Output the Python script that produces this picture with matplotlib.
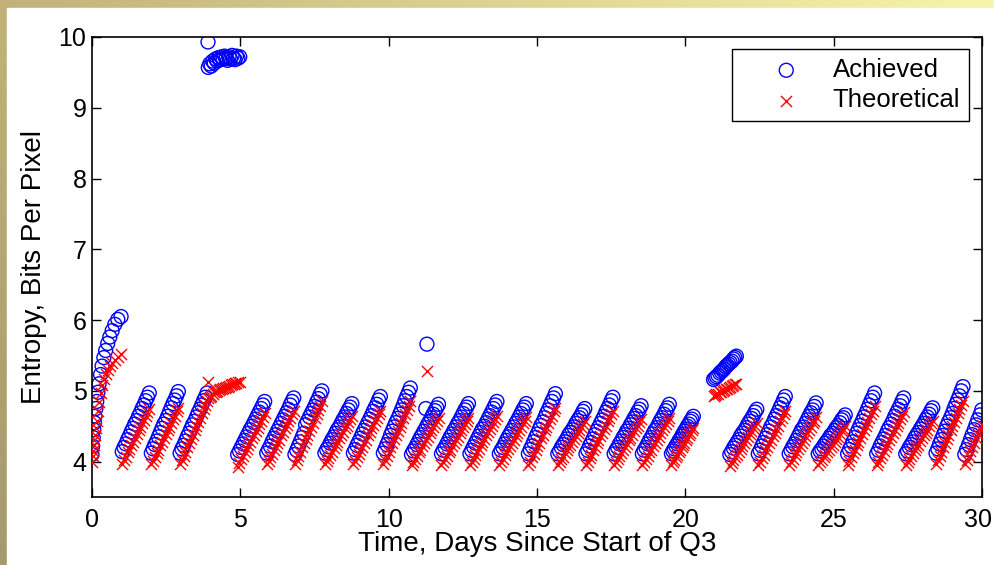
import numpy as np
import matplotlib.pyplot as plt
import matplotlib.transforms as mtransforms
from matplotlib.colors import to_rgb

# Sample times (days since start of Q3), one row per daily ramp
time_days = [
0.00,0.02,0.04,0.06,0.08,0.10,0.13,0.16,0.20,0.24,0.29,0.34,0.40,0.46,0.53,0.60,0.68,0.77,0.87,0.98,
1.02,1.08,1.14,1.20,1.26,1.32,1.38,1.44,1.51,1.57,1.63,1.69,1.75,1.81,1.87,1.93,
2.00,2.06,2.12,2.18,2.24,2.30,2.36,2.42,2.49,2.55,2.61,2.67,2.73,2.79,2.85,2.91,
2.97,3.03,3.09,3.15,3.21,3.27,3.33,3.39,3.46,3.52,3.58,3.64,3.70,3.76,3.82,3.88,
3.91,3.92,3.97,4.02,4.07,4.12,4.17,4.22,4.27,4.32,4.37,4.42,4.47,4.52,4.57,4.62,4.67,4.72,4.77,4.82,4.87,4.92,4.98,
4.91,4.97,5.03,5.09,5.15,5.21,5.27,5.33,5.40,5.46,5.52,5.58,5.64,5.70,5.76,5.82,
5.89,5.95,6.01,6.07,6.13,6.19,6.25,6.31,6.38,6.44,6.50,6.56,6.62,6.68,6.74,6.80,
6.84,6.90,6.96,7.02,7.08,7.14,7.20,7.26,7.33,7.39,7.45,7.51,7.57,7.63,7.69,7.75,
7.85,7.91,7.97,8.03,8.09,8.15,8.21,8.27,8.34,8.40,8.46,8.52,8.58,8.64,8.70,8.76,
8.81,8.87,8.93,8.99,9.05,9.11,9.17,9.23,9.30,9.36,9.42,9.48,9.54,9.60,9.66,9.72,
9.82,9.88,9.94,10.00,10.06,10.12,10.18,10.24,10.31,10.37,10.43,10.49,10.55,10.61,10.67,10.73,
10.77,10.83,10.89,10.95,11.01,11.07,11.13,11.19,11.26,11.32,11.38,11.44,11.50,11.56,11.62,11.68,11.25,11.29,
11.78,11.84,11.90,11.96,12.02,12.08,12.14,12.20,12.27,12.33,12.39,12.45,12.51,12.57,12.63,12.69,
12.74,12.80,12.86,12.92,12.98,13.04,13.10,13.16,13.23,13.29,13.35,13.41,13.47,13.53,13.59,13.65,
13.73,13.79,13.85,13.91,13.97,14.03,14.09,14.15,14.22,14.28,14.34,14.40,14.46,14.52,14.58,14.64,
14.71,14.77,14.83,14.89,14.95,15.01,15.07,15.13,15.20,15.26,15.32,15.38,15.44,15.50,15.56,15.62,
15.70,15.76,15.82,15.88,15.94,16.00,16.06,16.12,16.19,16.25,16.31,16.37,16.43,16.49,16.55,16.61,
16.65,16.71,16.77,16.83,16.89,16.95,17.01,17.07,17.14,17.20,17.26,17.32,17.38,17.44,17.50,17.56,
17.60,17.66,17.72,17.78,17.84,17.90,17.96,18.02,18.09,18.15,18.21,18.27,18.33,18.39,18.45,18.51,
18.55,18.61,18.67,18.73,18.79,18.85,18.91,18.97,19.04,19.10,19.16,19.22,19.28,19.34,19.40,19.46,
19.53,19.58,19.63,19.68,19.73,19.78,19.83,19.88,19.92,19.97,20.02,20.07,20.12,20.17,20.22,20.27,
20.95,21.00,21.05,21.10,21.16,21.21,21.26,21.31,21.36,21.41,21.46,21.51,21.57,21.62,21.67,21.72,
21.50,21.56,21.62,21.68,21.74,21.80,21.86,21.92,21.99,22.05,22.11,22.17,22.23,22.29,22.35,22.41,
22.46,22.52,22.58,22.64,22.70,22.76,22.82,22.88,22.95,23.01,23.07,23.13,23.19,23.25,23.31,23.37,
23.50,23.56,23.62,23.68,23.74,23.80,23.86,23.92,23.99,24.05,24.11,24.17,24.23,24.29,24.35,24.41,
24.48,24.54,24.60,24.66,24.72,24.78,24.84,24.90,24.97,25.03,25.09,25.15,25.21,25.27,25.33,25.39,
25.47,25.53,25.59,25.65,25.71,25.77,25.83,25.89,25.96,26.02,26.08,26.14,26.20,26.26,26.32,26.38,
26.45,26.51,26.57,26.63,26.69,26.75,26.81,26.87,26.94,27.00,27.06,27.12,27.18,27.24,27.30,27.36,
27.43,27.49,27.55,27.61,27.67,27.73,27.79,27.85,27.92,27.98,28.04,28.10,28.16,28.22,28.28,28.34,
28.45,28.51,28.57,28.63,28.69,28.75,28.81,28.87,28.94,29.00,29.06,29.12,29.18,29.24,29.30,29.36,
29.42,29.48,29.55,29.61,29.67,29.74,29.80,29.86,29.93,29.99,
]

# Achieved entropy (bits per pixel)
achieved = [
4.10,4.22,4.34,4.45,4.55,4.64,4.75,4.85,4.98,5.10,5.23,5.35,5.47,5.57,5.67,5.76,5.85,5.94,6.01,6.05,
4.14,4.20,4.25,4.31,4.36,4.42,4.47,4.53,4.58,4.64,4.69,4.75,4.80,4.86,4.91,4.97,
4.12,4.18,4.24,4.29,4.35,4.41,4.47,4.53,4.58,4.64,4.70,4.76,4.82,4.87,4.93,4.99,
4.12,4.18,4.23,4.29,4.35,4.40,4.46,4.52,4.57,4.63,4.69,4.74,4.80,4.86,4.91,4.97,
9.93,9.57,9.62,9.59,9.66,9.63,9.69,9.66,9.71,9.68,9.72,9.69,9.73,9.70,9.67,9.72,9.69,9.74,9.70,9.68,9.73,9.70,9.72,
4.10,4.15,4.20,4.25,4.30,4.35,4.40,4.45,4.50,4.55,4.60,4.65,4.70,4.75,4.80,4.85,
4.12,4.17,4.22,4.28,4.33,4.38,4.43,4.48,4.54,4.59,4.64,4.69,4.74,4.80,4.85,4.90,
4.10,4.16,4.22,4.28,4.34,4.40,4.52,4.57,4.63,4.68,4.73,4.78,4.84,4.89,4.95,5.00,
4.12,4.17,4.21,4.26,4.31,4.35,4.40,4.45,4.49,4.54,4.59,4.63,4.68,4.73,4.77,4.82,
4.12,4.17,4.23,4.28,4.33,4.39,4.44,4.49,4.55,4.60,4.65,4.71,4.76,4.81,4.87,4.92,
4.12,4.18,4.24,4.30,4.37,4.43,4.49,4.55,4.61,4.67,4.73,4.79,4.86,4.92,4.98,5.04,
4.10,4.15,4.19,4.24,4.29,4.34,4.38,4.43,4.48,4.53,4.57,4.62,4.67,4.72,4.76,4.81,4.75,5.66,
4.11,4.16,4.20,4.25,4.30,4.35,4.39,4.44,4.49,4.54,4.58,4.63,4.68,4.73,4.77,4.82,
4.11,4.16,4.21,4.26,4.31,4.36,4.41,4.46,4.50,4.55,4.60,4.65,4.70,4.75,4.80,4.85,
4.11,4.16,4.20,4.25,4.30,4.35,4.39,4.44,4.49,4.54,4.58,4.63,4.68,4.73,4.77,4.82,
4.11,4.17,4.22,4.28,4.34,4.39,4.45,4.51,4.56,4.62,4.68,4.73,4.79,4.85,4.90,4.96,
4.11,4.15,4.20,4.24,4.28,4.32,4.37,4.41,4.45,4.49,4.54,4.58,4.62,4.66,4.71,4.75,
4.11,4.16,4.22,4.27,4.32,4.38,4.43,4.48,4.54,4.59,4.64,4.70,4.75,4.80,4.86,4.91,
4.11,4.16,4.20,4.25,4.29,4.34,4.38,4.43,4.47,4.52,4.56,4.61,4.65,4.70,4.74,4.79,
4.11,4.16,4.20,4.25,4.30,4.34,4.39,4.44,4.48,4.53,4.58,4.62,4.67,4.72,4.76,4.81,
4.11,4.15,4.18,4.22,4.25,4.29,4.32,4.36,4.39,4.43,4.46,4.50,4.53,4.57,4.60,4.64,
5.16,5.18,5.20,5.22,5.25,5.27,5.29,5.31,5.34,5.36,5.38,5.40,5.42,5.45,5.47,5.49,
4.10,4.14,4.19,4.23,4.27,4.31,4.36,4.40,4.44,4.48,4.53,4.57,4.61,4.65,4.70,4.74,
4.11,4.16,4.22,4.27,4.33,4.38,4.43,4.49,4.54,4.60,4.65,4.70,4.76,4.81,4.87,4.92,
4.11,4.16,4.21,4.25,4.30,4.35,4.40,4.45,4.49,4.54,4.59,4.64,4.69,4.73,4.78,4.83,
4.11,4.15,4.18,4.22,4.26,4.29,4.33,4.37,4.40,4.44,4.48,4.51,4.55,4.59,4.62,4.66,
4.11,4.17,4.22,4.28,4.34,4.40,4.45,4.51,4.57,4.63,4.68,4.74,4.80,4.86,4.91,4.97,
4.11,4.16,4.22,4.27,4.32,4.37,4.43,4.48,4.53,4.58,4.64,4.69,4.74,4.79,4.85,4.90,
4.11,4.15,4.20,4.24,4.28,4.33,4.37,4.41,4.46,4.50,4.54,4.59,4.63,4.67,4.72,4.76,
4.12,4.18,4.25,4.31,4.37,4.43,4.50,4.56,4.62,4.68,4.75,4.81,4.87,4.93,5.00,5.06,
4.10,4.17,4.24,4.31,4.38,4.45,4.52,4.59,4.66,4.73,
]

# Theoretical entropy (bits per pixel); nan where no cross is drawn
theoretical = [
4.00,4.08,4.15,4.23,4.30,4.38,4.48,4.58,4.72,4.84,4.97,5.08,5.17,5.24,5.30,5.35,5.40,5.44,5.48,5.52,
3.97,4.02,4.07,4.13,4.18,4.23,4.28,4.33,4.39,4.44,4.49,4.54,4.59,4.65,4.70,4.75,
3.96,4.01,4.07,4.12,4.17,4.23,4.28,4.33,4.39,4.44,4.49,4.55,4.60,4.65,4.71,4.76,
3.96,4.02,4.08,4.14,4.20,4.26,4.32,4.38,4.44,4.50,4.56,4.62,4.68,4.74,4.80,4.86,
5.12,4.90,4.91,4.93,4.96,4.98,4.99,5.00,5.01,5.02,5.03,5.04,5.04,5.05,5.06,5.07,5.08,5.09,5.10,5.11,5.11,5.12,5.13,
3.93,3.98,4.03,4.08,4.13,4.18,4.23,4.28,4.33,4.38,4.43,4.48,4.53,4.58,4.63,4.68,
3.96,4.01,4.06,4.11,4.16,4.21,4.26,4.31,4.37,4.42,4.47,4.52,4.57,4.62,4.67,4.72,
3.96,4.02,4.08,4.14,4.20,4.26,4.32,4.38,4.43,4.49,4.55,4.61,4.67,4.73,4.79,4.85,
3.96,4.01,4.05,4.10,4.14,4.19,4.24,4.28,4.33,4.37,4.42,4.47,4.51,4.56,4.60,4.65,
3.96,4.01,4.06,4.11,4.16,4.21,4.26,4.31,4.37,4.42,4.47,4.52,4.57,4.62,4.67,4.72,
3.96,4.02,4.08,4.14,4.20,4.26,4.32,4.38,4.43,4.49,4.55,4.61,4.67,4.73,4.79,4.85,
3.95,3.99,4.04,4.08,4.13,4.17,4.22,4.26,4.31,4.35,4.40,4.44,4.49,4.53,4.58,4.62,np.nan,5.28,
3.95,3.99,4.04,4.08,4.13,4.17,4.22,4.26,4.31,4.35,4.40,4.44,4.49,4.53,4.58,4.62,
3.95,4.00,4.04,4.09,4.14,4.18,4.23,4.28,4.32,4.37,4.42,4.46,4.51,4.56,4.60,4.65,
3.95,4.00,4.04,4.09,4.13,4.18,4.22,4.27,4.31,4.36,4.40,4.45,4.49,4.54,4.58,4.63,
3.95,4.00,4.06,4.11,4.17,4.22,4.27,4.33,4.38,4.44,4.49,4.54,4.60,4.65,4.71,4.76,
3.95,3.99,4.03,4.07,4.12,4.16,4.20,4.24,4.28,4.32,4.36,4.40,4.45,4.49,4.53,4.57,
3.95,4.00,4.05,4.10,4.16,4.21,4.26,4.31,4.36,4.41,4.46,4.51,4.57,4.62,4.67,4.72,
3.95,3.99,4.04,4.08,4.12,4.17,4.21,4.25,4.30,4.34,4.38,4.43,4.47,4.51,4.56,4.60,
3.95,3.99,4.04,4.08,4.13,4.17,4.22,4.26,4.31,4.35,4.40,4.44,4.49,4.53,4.58,4.62,
3.95,3.99,4.02,4.06,4.09,4.13,4.16,4.20,4.23,4.27,4.30,4.34,4.37,4.41,4.44,4.48,
4.93,4.94,4.95,4.96,4.98,4.99,5.00,5.01,5.02,5.03,5.04,5.05,5.07,5.08,5.09,5.10,
3.94,3.98,4.02,4.06,4.10,4.14,4.18,4.22,4.27,4.31,4.35,4.39,4.43,4.47,4.51,4.55,
3.95,4.00,4.05,4.10,4.16,4.21,4.26,4.31,4.36,4.41,4.46,4.51,4.57,4.62,4.67,4.72,
3.95,4.00,4.04,4.09,4.13,4.18,4.22,4.27,4.31,4.36,4.40,4.45,4.49,4.54,4.58,4.63,
3.95,3.99,4.02,4.06,4.10,4.13,4.17,4.21,4.24,4.28,4.32,4.35,4.39,4.43,4.46,4.50,
3.95,4.01,4.06,4.12,4.17,4.23,4.28,4.34,4.39,4.45,4.50,4.56,4.61,4.67,4.72,4.78,
3.95,4.00,4.05,4.10,4.15,4.20,4.25,4.30,4.35,4.40,4.45,4.50,4.55,4.60,4.65,4.70,
3.95,3.99,4.03,4.08,4.12,4.16,4.20,4.24,4.29,4.33,4.37,4.41,4.45,4.50,4.54,4.58,
3.96,4.02,4.08,4.14,4.20,4.26,4.32,4.38,4.44,4.50,4.56,4.62,4.68,4.74,4.80,4.86,
3.96,4.02,4.08,4.15,4.21,4.27,4.33,4.39,4.46,4.52,
]

x_ticks = [0, 5, 10, 15, 20, 25, 30]
y_ticks = [4, 5, 6, 7, 8, 9, 10]

plt.rcParams['font.family'] = ['Liberation Sans', 'DejaVu Sans']

W, H = 994, 565
fig = plt.figure(figsize=(W / 100, H / 100), dpi=100)

# khaki slide frame behind the white figure area
bg = fig.add_axes([0, 0, 1, 1], zorder=-10)
u = np.linspace(0, 1, 200)[None, :, None]
v = np.linspace(0, 1, 120)[:, None, None]
c00 = np.array(to_rgb('#c2b27a'))
c10 = np.array(to_rgb('#f8f4aa'))
c01 = np.array(to_rgb('#a59a6c'))
c11 = np.array(to_rgb('#e0d898'))
grad = c00 * (1 - u) * (1 - v) + c10 * u * (1 - v) + c01 * (1 - u) * v + c11 * u * v
bg.imshow(grad, extent=[0, 1, 0, 1], aspect='auto', origin='upper')
bg.add_patch(plt.Rectangle((7 / W, 0), 1, 1 - 8 / H, color='white'))
bg.set_xlim(0, 1)
bg.set_ylim(0, 1)
bg.axis('off')

ax = fig.add_axes([92 / W, 68 / H, 890 / W, 460 / H])
ax.scatter(time_days, achieved, s=100, facecolors='none', edgecolors='#0000ff',
           linewidths=1.0, label='Achieved', zorder=2)
ax.scatter(time_days, theoretical, s=64, marker='x', color='#ff0000',
           linewidths=1.0, label='Theoretical', zorder=3)

ax.set_xlim(0, 30)
ax.set_ylim(3.5, 10)
ax.set_xticks(x_ticks)
ax.set_yticks(y_ticks)
ax.tick_params(direction='in', length=6.5, width=1, top=True, right=True,
               labelsize=18)
ax.tick_params(axis='x', pad=8)
ax.tick_params(axis='y', pad=4)
for sp in ax.spines.values():
    sp.set_linewidth(1.2)

# nudge the last x label so it stays inside the canvas
fig.canvas.draw()
last = ax.get_xticklabels()[-1]
last.set_transform(last.get_transform() +
                   mtransforms.ScaledTranslation(-4 / 100, 0, fig.dpi_scale_trans))

ax.set_xlabel('Time, Days Since Start of Q3', fontsize=20, labelpad=-1)
ax.set_ylabel('Entropy, Bits Per Pixel', fontsize=20, labelpad=8)

leg = ax.legend(loc='upper right', bbox_to_anchor=(969 / W, 1 - 49 / H),
                bbox_transform=fig.transFigure, fontsize=18.5, frameon=True,
                fancybox=False, framealpha=1, edgecolor='black',
                borderpad=0.35, handlelength=3.5, handletextpad=0.05,
                labelspacing=0.25, borderaxespad=0)
leg.get_frame().set_linewidth(1.0)

fig.savefig('out.png', dpi=100)
